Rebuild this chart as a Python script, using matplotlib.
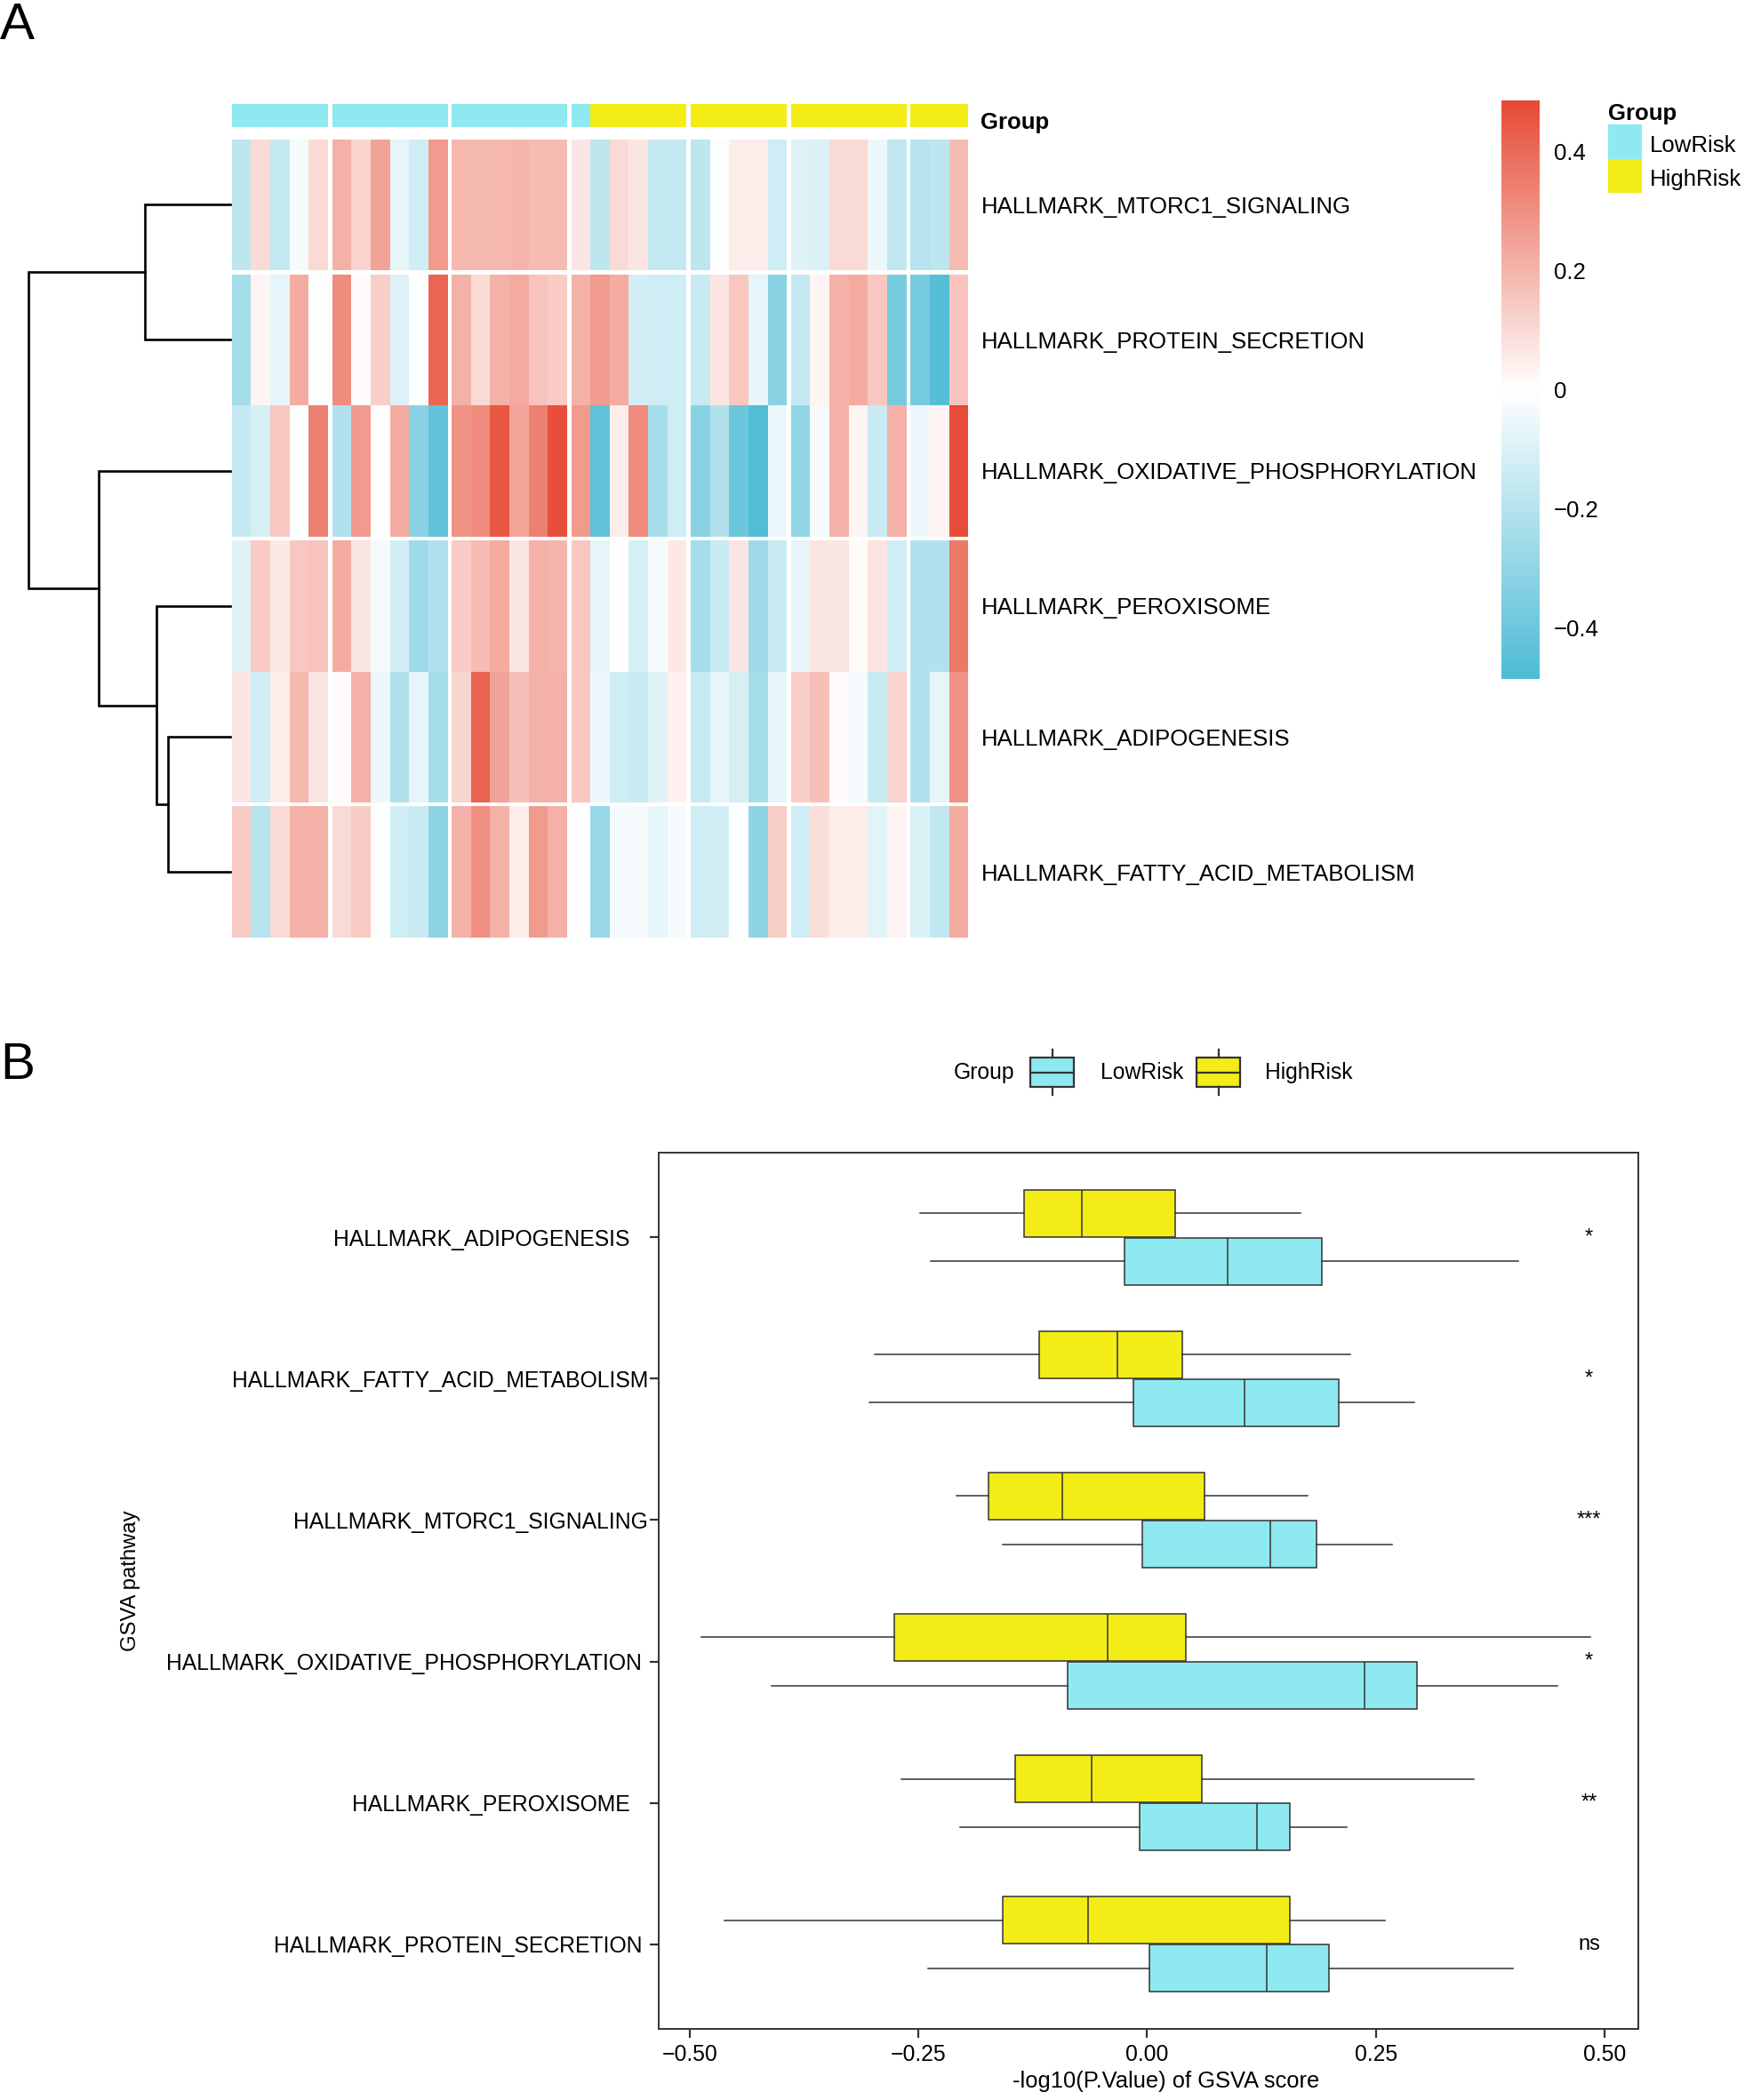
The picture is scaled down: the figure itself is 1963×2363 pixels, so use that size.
import numpy as np
import matplotlib
matplotlib.use("Agg")
import matplotlib.pyplot as plt
import matplotlib.transforms as mtransforms
from matplotlib.colors import LinearSegmentedColormap, ListedColormap, Normalize
from matplotlib.cm import ScalarMappable
from matplotlib.patches import Rectangle

plt.rcParams["font.family"] = ["Liberation Sans", "DejaVu Sans"]

# =========================
# Panel A data (heatmap of GSVA scores, 6 pathways x 37 samples)
# =========================
heat_rows = [
    "HALLMARK_MTORC1_SIGNALING",
    "HALLMARK_PROTEIN_SECRETION",
    "HALLMARK_OXIDATIVE_PHOSPHORYLATION",
    "HALLMARK_PEROXISOME",
    "HALLMARK_ADIPOGENESIS",
    "HALLMARK_FATTY_ACID_METABOLISM",
]
mtorc1 = [-0.18, 0.10, -0.16, -0.03, 0.10, 0.21, 0.12, 0.25, -0.07, -0.13, 0.27, 0.19, 0.19, 0.19, 0.20, 0.18, 0.18, 0.07,
          -0.18, 0.10, 0.07, -0.16, -0.16, -0.18, -0.01, 0.05, 0.05, -0.13, -0.09, -0.10, 0.10, 0.10, -0.05, -0.17, -0.20, -0.18, 0.18]
protein = [-0.24, 0.03, -0.07, 0.22, -0.01, 0.31, 0.01, 0.13, -0.09, -0.01, 0.41, 0.21, 0.10, 0.21, 0.23, 0.16, 0.14, 0.21,
           0.27, 0.22, -0.12, -0.13, -0.13, -0.15, 0.07, 0.15, -0.07, -0.32, -0.16, 0.03, 0.21, 0.23, 0.15, -0.37, -0.37, -0.46, 0.16]
oxphos = [-0.16, -0.11, 0.15, -0.01, 0.34, -0.21, 0.27, -0.01, 0.22, -0.32, -0.43, 0.29, 0.31, 0.45, 0.24, 0.34, 0.47, 0.27,
          -0.43, 0.05, 0.31, -0.24, -0.13, -0.32, -0.21, -0.40, -0.47, -0.05, -0.30, -0.03, 0.21, 0.03, -0.15, 0.21, -0.05, 0.03, 0.48]
peroxisome = [-0.09, 0.14, 0.06, 0.15, 0.16, 0.22, 0.07, -0.03, -0.12, -0.26, -0.21, 0.14, 0.18, 0.23, 0.07, 0.21, 0.20, 0.15,
              -0.07, 0.00, -0.11, -0.03, 0.06, -0.24, -0.15, 0.07, -0.26, -0.15, -0.07, 0.07, 0.07, 0.01, 0.07, -0.13, -0.21, -0.21, 0.36]
adipogenesis = [0.07, -0.13, 0.05, 0.19, 0.07, 0.01, 0.21, -0.05, -0.21, -0.07, -0.24, 0.11, 0.42, 0.25, 0.17, 0.21, 0.21, 0.15,
                -0.05, -0.13, -0.15, -0.09, 0.04, -0.15, -0.07, -0.11, -0.24, -0.07, 0.13, 0.17, 0.01, -0.03, -0.15, 0.12, -0.21, -0.07, 0.29]
fatty_acid = [0.14, -0.20, 0.10, 0.21, 0.21, 0.10, 0.14, -0.01, -0.13, -0.15, -0.31, 0.21, 0.30, 0.21, 0.05, 0.27, 0.21, 0.00,
              -0.28, -0.03, -0.03, -0.07, -0.03, -0.13, -0.12, -0.01, -0.31, 0.13, -0.13, 0.09, 0.05, 0.05, -0.08, 0.03, -0.10, -0.17, 0.22]

sample_group = ["LowRisk"] * 18 + ["HighRisk"] * 19
col_blocks = [5, 6, 6, 6, 5, 6, 3]      # column cut blocks (gaps between them)
row_blocks = [1, 2, 2, 1]               # row cut blocks
# row dendrogram: merges of leaves (display order) and merge heights (relative)
row_merges = [(4, 5), (3, 6), (0, 1), (2, 7), (8, 9)]
merge_heights = [0.307, 0.364, 0.425, 0.654, 1.0]

cbar_ticks = [0.4, 0.2, 0, -0.2, -0.4]
cbar_labels = ["0.4", "0.2", "0", "\u22120.2", "\u22120.4"]

# =========================
# Panel B data (boxplots per pathway)
# =========================
pathways = [
    "HALLMARK_ADIPOGENESIS",
    "HALLMARK_FATTY_ACID_METABOLISM",
    "HALLMARK_MTORC1_SIGNALING",
    "HALLMARK_OXIDATIVE_PHOSPHORYLATION",
    "HALLMARK_PEROXISOME",
    "HALLMARK_PROTEIN_SECRETION",
]
label_pad_spaces = [3, 0, 0, 1, 3, 1]   # original labels carry trailing blanks
high_lo = [-0.248, -0.298, -0.208, -0.487, -0.269, -0.462]
high_q1 = [-0.135, -0.118, -0.173, -0.276, -0.144, -0.158]
high_med = [-0.071, -0.033, -0.093, -0.043, -0.061, -0.065]
high_q3 = [0.031, 0.038, 0.063, 0.042, 0.060, 0.156]
high_hi = [0.168, 0.222, 0.175, 0.485, 0.357, 0.260]
low_lo = [-0.237, -0.304, -0.158, -0.411, -0.205, -0.240]
low_q1 = [-0.025, -0.015, -0.005, -0.087, -0.008, 0.002]
low_med = [0.088, 0.106, 0.135, 0.238, 0.120, 0.131]
low_q3 = [0.191, 0.209, 0.185, 0.295, 0.156, 0.199]
low_hi = [0.406, 0.292, 0.268, 0.449, 0.218, 0.400]
signif = ["*", "*", "***", "*", "**", "ns"]
x_ticks = [-0.50, -0.25, 0.00, 0.25, 0.50]
x_tick_labels = ["\u22120.50", "\u22120.25", "0.00", "0.25", "0.50"]

# =========================
# Style
# =========================
BLUE = "#4DBBD5"
RED = "#E64B35"
CYAN = "#8EEAF0"
YELLOW = "#F3EC17"
EDGE = "#333333"
GAP_COL = 0.208
GAP_ROW = 0.03
VLIM = 0.485

W, H = 1963, 2363
fig = plt.figure(figsize=(W / 100, H / 100), dpi=100)


def px_axes(x0, y0, x1, y1, **kw):
    return fig.add_axes([x0 / W, 1 - y1 / H, (x1 - x0) / W, (y1 - y0) / H], **kw)


def fig_text(x, y, s, **kw):
    return fig.text(x / W, 1 - y / H, s, **kw)


cmap = LinearSegmentedColormap.from_list("bwr_npg", [BLUE, "white", RED], N=256)
norm = Normalize(vmin=-VLIM, vmax=VLIM)
values = np.array([mtorc1, protein, oxphos, peroxisome, adipogenesis, fatty_acid])
n_rows, n_cols = values.shape

# ---------- heatmap body ----------
ax_hm = px_axes(260.7, 156.7, 1089.3, 1055)
total_w = n_cols + GAP_COL * (len(col_blocks) - 1)
total_h = n_rows + GAP_ROW * (len(row_blocks) - 1)

row_centers = []
yoff = 0
for nr in row_blocks:
    row_centers.extend(yoff + np.arange(nr) + 0.5)
    yoff += nr + GAP_ROW

c0, xoff = 0, 0.0
for nc in col_blocks:
    xedges = xoff + np.arange(nc + 1)
    r0, yoff = 0, 0.0
    for nr in row_blocks:
        yedges = yoff + np.arange(nr + 1)
        ax_hm.pcolormesh(xedges, yedges, values[r0:r0 + nr, c0:c0 + nc],
                         cmap=cmap, norm=norm, shading="flat", antialiased=False)
        r0 += nr
        yoff += nr + GAP_ROW
    c0 += nc
    xoff += nc + GAP_COL
ax_hm.set_xlim(0, total_w)
ax_hm.set_ylim(total_h, 0)
ax_hm.axis("off")

lab_tr = mtransforms.blended_transform_factory(ax_hm.transAxes, ax_hm.transData)
for name, yc in zip(heat_rows, row_centers):
    ax_hm.text(1.0172, yc, name, transform=lab_tr, ha="left", va="center_baseline", fontsize=18.5)

# ---------- annotation bar ----------
ax_an = px_axes(260.7, 117.3, 1089.3, 143.3)
group_code = np.array([[0 if g == "LowRisk" else 1 for g in sample_group]])
ann_cmap = ListedColormap([CYAN, YELLOW])
c0, xoff = 0, 0.0
for nc in col_blocks:
    ax_an.pcolormesh(xoff + np.arange(nc + 1), [0, 1], group_code[:, c0:c0 + nc],
                     cmap=ann_cmap, vmin=0, vmax=1, shading="flat", antialiased=False)
    c0 += nc
    xoff += nc + GAP_COL
ax_an.set_xlim(0, total_w)
ax_an.set_ylim(1, 0)
ax_an.axis("off")

# ---------- row dendrogram ----------
ax_d = px_axes(32, 156.7, 259, 1055, sharey=ax_hm)
node_y = {i: row_centers[i] for i in range(n_rows)}
node_h = {i: 0.0 for i in range(n_rows)}
for k, ((a, b), h) in enumerate(zip(row_merges, merge_heights)):
    ax_d.plot([node_h[a], h, h, node_h[b]], [node_y[a], node_y[a], node_y[b], node_y[b]],
              color="black", lw=1.9, clip_on=False, solid_joinstyle="miter")
    node_y[n_rows + k] = (node_y[a] + node_y[b]) / 2
    node_h[n_rows + k] = h
ax_d.set_xlim(max(merge_heights), 0)
ax_d.axis("off")

# ---------- colour bar ----------
cax = px_axes(1689, 113, 1732, 764)
cb = fig.colorbar(ScalarMappable(norm=norm, cmap=cmap), cax=cax, ticks=cbar_ticks)
cb.ax.set_yticklabels(cbar_labels)
cb.outline.set_visible(False)
cax.tick_params(length=0, pad=11.5, labelsize=18.5)

# ---------- overlay for legends (figure pixel coordinates) ----------
ax_ov = fig.add_axes([0, 0, 1, 1], zorder=10)
ax_ov.set_xlim(0, W)
ax_ov.set_ylim(H, 0)
ax_ov.axis("off")

ax_ov.text(1103.5, 136, "Group", ha="left", va="center_baseline", fontsize=18.5, fontweight="bold")

ax_ov.text(1809, 126, "Group", ha="left", va="center_baseline", fontsize=18.5, fontweight="bold")
for i, (lab, col) in enumerate([("LowRisk", CYAN), ("HighRisk", YELLOW)]):
    y0 = 140 + i * 38.5
    ax_ov.add_patch(Rectangle((1809, y0), 38, 38.5, facecolor=col, edgecolor="none"))
    ax_ov.text(1856, y0 + 21.5, lab, ha="left", va="center_baseline", fontsize=18.5)

# panel letters
fig_text(0, 2, "A", ha="left", va="top", fontsize=42)
fig_text(0, 1172, "B", ha="left", va="top", fontsize=42)

# =========================
# Panel B: boxplots
# =========================
ax_b = px_axes(741, 1297, 1843, 2283)
pos = np.arange(1, len(pathways) + 1)
DODGE = 0.17
BOX_H = 0.33


def box_stats(lo, q1, med, q3, hi):
    return [dict(whislo=a, q1=b, med=c, q3=d, whishi=e, fliers=[])
            for a, b, c, d, e in zip(lo, q1, med, q3, hi)]


common = dict(widths=BOX_H, vert=False, patch_artist=True, showfliers=False, showcaps=False,
              whiskerprops=dict(color=EDGE, linewidth=1.1),
              medianprops=dict(color=EDGE, linewidth=1.1), manage_ticks=False)
ax_b.bxp(box_stats(high_lo, high_q1, high_med, high_q3, high_hi), positions=pos - DODGE,
         boxprops=dict(facecolor=YELLOW, edgecolor=EDGE, linewidth=1.1), **common)
ax_b.bxp(box_stats(low_lo, low_q1, low_med, low_q3, low_hi), positions=pos + DODGE,
         boxprops=dict(facecolor=CYAN, edgecolor=EDGE, linewidth=1.1), **common)

for p, s in zip(pos, signif):
    ax_b.text(0.483, p, s, ha="center", va="center", fontsize=17)

ax_b.set_xlim(-0.534, 0.537)
ax_b.set_ylim(len(pathways) + 0.6, 0.4)
ax_b.set_xticks(x_ticks)
ax_b.set_xticklabels(x_tick_labels)
ax_b.set_yticks(pos)
ax_b.set_yticklabels([p + " " * n for p, n in zip(pathways, label_pad_spaces)])
ax_b.tick_params(axis="both", length=7, width=1.6, color=EDGE, labelcolor="black")
ax_b.tick_params(axis="y", pad=1.5, labelsize=17.8)
ax_b.tick_params(axis="x", pad=5, labelsize=17.8)
for sp in ax_b.spines.values():
    sp.set_color(EDGE)
    sp.set_linewidth(1.4)

fig_text(1312, 2342, "-log10(P.Value) of GSVA score", ha="center", va="center", fontsize=18.4)
fig_text(147, 1779, "GSVA pathway", ha="center", va="center", rotation=90, fontsize=17.2)

# ---------- boxplot legend ----------
ax_ov.text(1073, 1207, "Group", ha="left", va="center", fontsize=17.8)
for (lab, col, kx, tx) in [("LowRisk", CYAN, 1159, 1238), ("HighRisk", YELLOW, 1346, 1423)]:
    ax_ov.add_patch(Rectangle((kx, 1190), 49, 33, facecolor=col, edgecolor=EDGE, linewidth=1.6))
    ax_ov.plot([kx, kx + 49], [1206.5, 1206.5], color=EDGE, lw=1.6)
    ax_ov.plot([kx + 24.5, kx + 24.5], [1181, 1190], color=EDGE, lw=1.6)
    ax_ov.plot([kx + 24.5, kx + 24.5], [1223, 1232], color=EDGE, lw=1.6)
    ax_ov.text(tx, 1207, lab, ha="left", va="center", fontsize=17.8)

fig.savefig("out.png", dpi=100)
